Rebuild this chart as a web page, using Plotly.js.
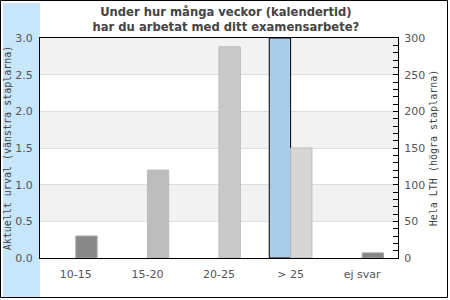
<!DOCTYPE html>
<html>
<head>
<meta charset="utf-8">
<script src="https://cdn.plot.ly/plotly-3.0.1.min.js"></script>
<style>html,body{margin:0;padding:0;background:#fff;}#chart{width:450px;height:300px;}</style>
</head>
<body>
<div id="chart"></div>
<script>
// Data
const categories = ['10-15', '15-20', '20-25', '> 25', 'ej svar'];
const aktuelltUrval = [0, 0, 0, 3, 0];          // left axis
const helaLTH = [30, 120, 288, 150, 7];         // right axis
const helaColors = ['#878787', '#bdbdbd', '#c9c9c9', '#d6d6d6', '#878787'];
const helaLineColors = ['#a8a8a8', '#bbbbbb', '#bbbbbb', '#bdbdbd', '#a8a8a8'];
const leftTicks = [0, 0.5, 1.0, 1.5, 2.0, 2.5, 3.0];
const bands = [[0.5, 1.0], [1.5, 2.0], [2.5, 3.0]];

const traces = [
  {
    type: 'bar', x: categories, y: aktuelltUrval, yaxis: 'y',
    width: 0.298, offset: -0.298,
    marker: {color: '#abcde8', line: {color: '#000', width: aktuelltUrval.map(v => v > 0 ? 1 : 0)}},
    hoverinfo: 'none'
  },
  {
    type: 'bar', x: categories, y: helaLTH, yaxis: 'y2',
    width: 0.298, offset: 0,
    marker: {color: helaColors, line: {color: helaLineColors, width: 1}},
    hoverinfo: 'none'
  }
];

const shapes = [
  // light blue strip at left
  {type: 'rect', xref: 'paper', yref: 'paper', xsizemode: 'pixel', ysizemode: 'pixel',
   xanchor: 0, yanchor: 0, x0: -37, x1: 0, y0: -39, y1: 255,
   fillcolor: '#c8e6fa', line: {width: 0}, layer: 'below'},
  // outer border
  {type: 'rect', xref: 'paper', yref: 'paper', xsizemode: 'pixel', ysizemode: 'pixel',
   xanchor: 0, yanchor: 0, x0: -39.5, x1: 407.5, y0: -39.5, y1: 257.5,
   fillcolor: 'rgba(0,0,0,0)', line: {width: 1, color: '#000'}, layer: 'above'}
];
bands.forEach(b => shapes.push({
  type: 'rect', xref: 'paper', yref: 'y', x0: 0, x1: 1, y0: b[0], y1: b[1],
  fillcolor: '#f2f2f2', line: {width: 0}, layer: 'below'
}));

const layout = {
  width: 450, height: 300,
  margin: {l: 40, r: 52, t: 38, b: 42, pad: 0},
  paper_bgcolor: 'rgba(0,0,0,0)', plot_bgcolor: 'rgba(0,0,0,0)',
  showlegend: false,
  barmode: 'overlay',
  font: {family: 'DejaVu Sans', size: 11, color: '#555'},
  title: {
    text: 'Under hur många veckor (kalendertid)<br>har du arbetat med ditt examensarbete?',
    font: {family: 'DejaVu Sans', size: 11.6, color: '#444', weight: 'bold'},
    x: 0.502, xanchor: 'center', y: 0.947, yanchor: 'middle'
  },
  xaxis: {
    type: 'category', range: [-0.5, 4.5], showgrid: false,
    showline: true, linecolor: '#000', linewidth: 1, mirror: true,
    ticks: '', ticklabelstandoff: 6, tickfont: {size: 11, color: '#555'},
    zeroline: false, fixedrange: true
  },
  yaxis: {
    range: [0, 3], tickvals: leftTicks, tickformat: '.1f',
    showgrid: true, gridcolor: '#dedede', gridwidth: 1,
    showline: true, linecolor: '#000', linewidth: 1,
    ticks: '', ticklabelstandoff: 4, zeroline: false,
    tickfont: {size: 11, color: '#555'},
    title: {text: 'Aktuellt urval (vänstra staplarna)', standoff: 1,
            font: {family: 'DejaVu Sans Mono', size: 10, color: '#444'}},
    fixedrange: true
  },
  yaxis2: {
    range: [0, 300], overlaying: 'y', side: 'right', dtick: 50,
    showgrid: false, zeroline: false,
    showline: true, linecolor: '#000', linewidth: 1,
    ticks: 'inside', ticklen: 5, tickcolor: '#000',
    minor: {dtick: 10, ticks: 'inside', ticklen: 5, tickcolor: '#000', showgrid: false},
    ticklabelstandoff: 3,
    tickfont: {size: 11, color: '#555'},
    title: {text: 'Hela LTH (högra staplarna)', standoff: 5,
            font: {family: 'DejaVu Sans Mono', size: 10, color: '#444'}},
    fixedrange: true
  },
  shapes: shapes
};

Plotly.newPlot('chart', traces, layout, {displayModeBar: false, staticPlot: true});
</script>
</body>
</html>
